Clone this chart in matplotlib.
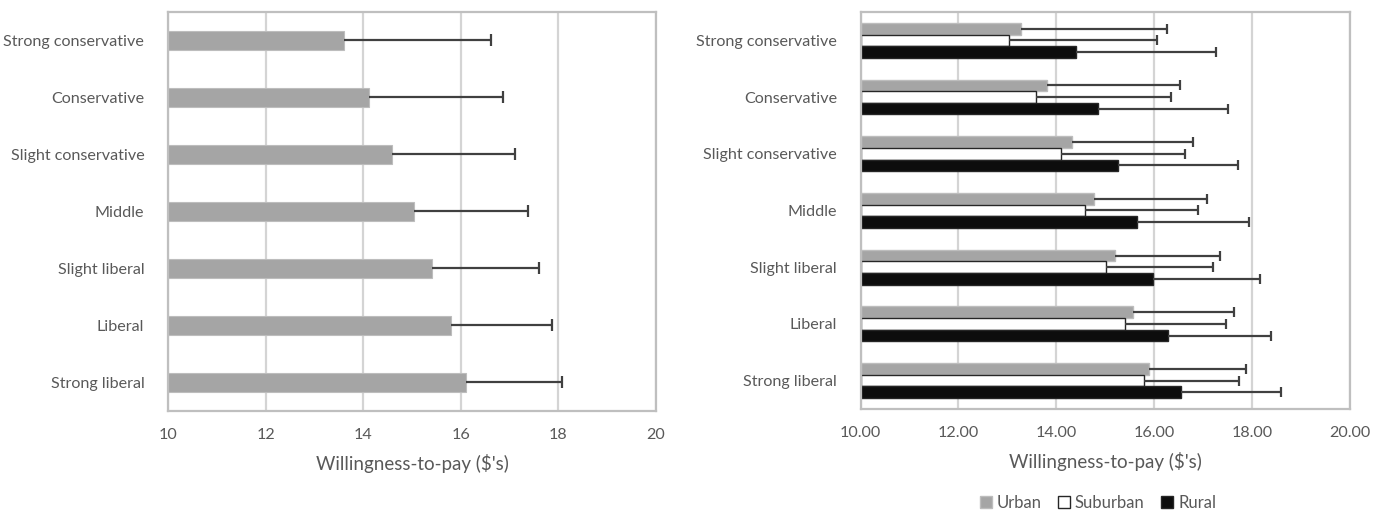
import matplotlib.pyplot as plt
import numpy as np

plt.rcParams['font.family'] = ['Lato', 'DejaVu Sans']

categories = ["Strong conservative", "Conservative", "Slight conservative", "Middle",
              "Slight liberal", "Liberal", "Strong liberal"]

# left panel: overall willingness-to-pay and upper error
overall = [13.61, 14.12, 14.59, 15.04, 15.42, 15.79, 16.10]
overall_err = [3.00, 2.75, 2.53, 2.33, 2.19, 2.07, 1.98]

# right panel: by location
urban = [13.27, 13.81, 14.31, 14.76, 15.19, 15.57, 15.90]
urban_err = [2.99, 2.72, 2.49, 2.32, 2.15, 2.05, 1.97]
suburban = [13.03, 13.59, 14.10, 14.58, 15.02, 15.41, 15.78]
suburban_err = [3.02, 2.75, 2.52, 2.32, 2.18, 2.05, 1.95]
rural = [14.41, 14.85, 15.26, 15.65, 15.98, 16.27, 16.54]
rural_err = [2.86, 2.66, 2.46, 2.29, 2.18, 2.11, 2.05]

grid_c = "#d4d4d4"
spine_c = "#bfbfbf"
text_c = "#595959"
err_c = "#404040"


def style_axes(ax, fmt):
    ax.set_xlim(10, 20)
    ax.set_xticks(np.arange(10, 21, 2))
    ax.set_xticklabels([fmt.format(v) for v in np.arange(10, 21, 2)])
    ax.set_ylim(len(categories) - 0.5, -0.5)
    ax.set_yticks(np.arange(len(categories)))
    ax.set_yticklabels(categories)
    ax.tick_params(length=0, labelsize=11.6, labelcolor=text_c)
    ax.tick_params(axis='y', pad=17)
    ax.tick_params(axis='x', pad=12)
    ax.grid(axis='x', color=grid_c, lw=1.6)
    ax.set_axisbelow(True)
    for s in ax.spines.values():
        s.set_color(spine_c)
        s.set_linewidth(1.6)
    ax.set_xlabel("Willingness-to-pay ($'s)", fontsize=13.5, color=text_c, labelpad=9)


def plus_errorbar(ax, vals, ypos, errs, capsize):
    # only the upper error, with a cap at its end only
    eb = ax.errorbar(vals, ypos, xerr=[np.zeros(len(vals)), errs], fmt='none',
                     ecolor=err_c, elinewidth=1.6, capsize=capsize, capthick=1.6)
    eb[1][0].set_visible(False)


fig = plt.figure(figsize=(13.86, 5.11), dpi=100)

# left panel
ax1 = fig.add_axes([0.1212, 0.1957, 0.3521, 0.781])
y = np.arange(len(categories))
ax1.barh(y, np.array(overall) - 10, left=10, height=0.34, color="#a5a5a5",
         edgecolor="#bdbdbd", lw=0.8)
plus_errorbar(ax1, overall, y, overall_err, 4)
style_axes(ax1, "{:d}")

# right panel
ax2 = fig.add_axes([0.6209, 0.1996, 0.3532, 0.777])
h = 0.205
series = [(urban, urban_err, "#a5a5a5", "#bdbdbd", "Urban", -h),
          (suburban, suburban_err, "white", "#262626", "Suburban", 0),
          (rural, rural_err, "#0d0d0d", "#262626", "Rural", h)]
handles = []
for vals, errs, fc, ec, lab, off in series:
    b = ax2.barh(y + off, np.array(vals) - 10, left=10, height=h, color=fc,
                 edgecolor=ec, lw=1.0, label=lab)
    handles.append(b)
    plus_errorbar(ax2, vals, y + off, errs, 3.5)
style_axes(ax2, "{:.2f}")

fig.legend(handles=handles, loc='center', bbox_to_anchor=(1098 / 1386, 1 - 503 / 511),
           ncol=3, frameon=False, fontsize=12, handlelength=0.7, handleheight=0.7,
           handletextpad=0.3, columnspacing=1.0, labelcolor=text_c)

fig.savefig("out.png", dpi=100)
